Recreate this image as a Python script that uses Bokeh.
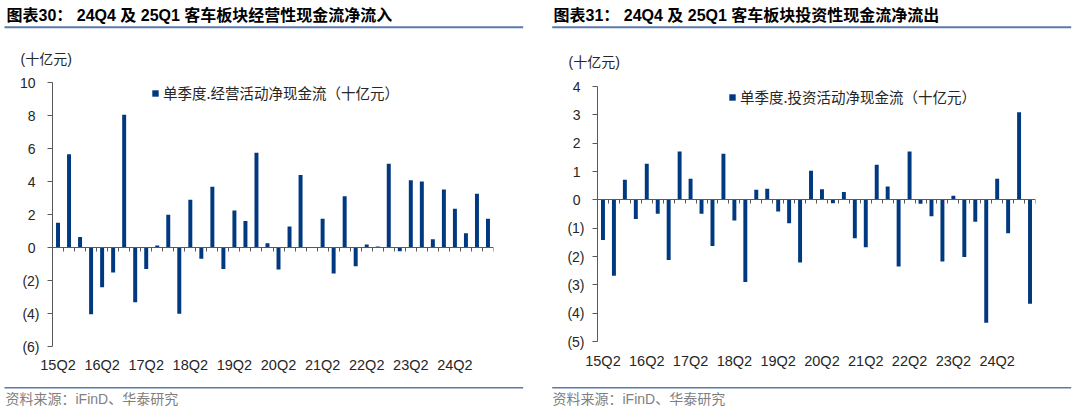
from bokeh.plotting import figure
from bokeh.models import (Label, BoxAnnotation, LinearAxis, FixedTicker, Range1d,
                          CustomJSTickFormatter)
from bokeh.layouts import row, column
from bokeh.embed import file_html
from bokeh.resources import INLINE

# ---------------- data ----------------
quarters = ["15Q2", "15Q3", "15Q4", "16Q1", "16Q2", "16Q3", "16Q4", "17Q1", "17Q2", "17Q3",
            "17Q4", "18Q1", "18Q2", "18Q3", "18Q4", "19Q1", "19Q2", "19Q3", "19Q4", "20Q1",
            "20Q2", "20Q3", "20Q4", "21Q1", "21Q2", "21Q3", "21Q4", "22Q1", "22Q2", "22Q3",
            "22Q4", "23Q1", "23Q2", "23Q3", "23Q4", "24Q1", "24Q2", "24Q3", "24Q4", "25Q1"]

operating_cf = [1.5, 5.65, 0.64, -4.05, -2.41, -1.51, 8.05, -3.32, -1.31, 0.12,
                1.99, -4.02, 2.9, -0.68, 3.68, -1.31, 2.25, 1.61, 5.75, 0.26,
                -1.33, 1.27, 4.4, -0.03, 1.75, -1.57, 3.1, -1.13, 0.18, 0.06,
                5.07, -0.22, 4.08, 4.0, 0.5, 3.52, 2.35, 0.87, 3.26, 1.75]

investing_cf = [-1.42, -2.68, 0.71, -0.68, 1.27, -0.49, -2.12, 1.71, 0.74, -0.49,
                -1.63, 1.63, -0.73, -2.9, 0.36, 0.39, -0.41, -0.83, -2.21, 1.03,
                0.37, -0.12, 0.28, -1.36, -1.67, 1.24, 0.47, -2.35, 1.71, -0.14,
                -0.58, -2.18, 0.14, -2.02, -0.77, -4.34, 0.74, -1.18, 3.09, -3.67]

x_tick_labels = ["15Q2", "16Q2", "17Q2", "18Q2", "19Q2", "20Q2", "21Q2", "22Q2", "23Q2", "24Q2"]

left_yticks = [-6, -4, -2, 0, 2, 4, 6, 8, 10]
left_ylabels = ["(6)", "(4)", "(2)", "0\u2008", "2\u2008", "4\u2008", "6\u2008", "8\u2008", "10\u2008"]
right_yticks = [-5, -4, -3, -2, -1, 0, 1, 2, 3, 4]
right_ylabels = ["(5)", "(4)", "(3)", "(2)", "(1)", "0\u2008", "1\u2008", "2\u2008", "3\u2008", "4\u2008"]

left_title = "图表30： 24Q4 及 25Q1 客车板块经营性现金流净流入"
right_title = "图表31： 24Q4 及 25Q1 客车板块投资性现金流净流出"
left_legend = "单季度.经营活动净现金流（十亿元）"
right_legend = "单季度.投资活动净现金流（十亿元）"
unit_text = "(十亿元)"
source_text = "资料来源：iFinD、华泰研究"

# ---------------- style ----------------
BAR = "#00397F"
RULE = "#5B7AAB"
AXIS = "#595959"
TXT = "#262626"
CJK = "Noto Sans CJK SC"
MIX = "Liberation Sans, Noto Sans CJK SC"
LAT = "Liberation Sans"
COL_W = 540
FOOT_Y = 384          # top of the footer strip
TOTAL_H = 420


def blank(height):
    p = figure(width=COL_W, height=height, x_range=Range1d(0, COL_W),
               y_range=Range1d(height, 0), output_backend="svg", toolbar_location=None,
               x_axis_location=None, y_axis_location=None, title=None, min_border=0,
               frame_align=False)
    p.grid.visible = False
    p.outline_line_color = None
    p.background_fill_color = "white"
    p.border_fill_color = "white"
    return p


def lab(p, x, y, text, size, color=TXT, style="normal", font=MIX):
    p.add_layout(Label(x=x, y=y, text=text, text_font=font, text_font_size=size,
                       text_font_style=style, text_color=color,
                       text_baseline="middle", text_align="left"))


def rule(p, x0, x1, y, th):
    p.add_layout(BoxAnnotation(left=x0, right=x1, top=y - th / 2, bottom=y + th / 2,
                               fill_color=RULE, fill_alpha=1, line_color=None))


def top_panel(title, geo):
    p = blank(geo["th"])
    lab(p, geo["tx"], 15, title, "16px", color="#000000", style="bold")
    rule(p, geo["r0"], geo["r1"], 26.7, 2)
    lab(p, geo["ux"], geo["uy"], unit_text, "14px")
    return p


def foot_panel(geo):
    p = blank(TOTAL_H - FOOT_Y)
    rule(p, geo["r0"], geo["r1"], 3.3, 1.6)
    lab(p, geo["sx"], 14.3, source_text, "14px", color="#7F7F7F")
    return p


def chart_panel(values, yticks, ylabels, legend_label, geo):
    n = len(quarters)
    p = figure(width=COL_W, height=FOOT_Y - geo["th"], x_range=Range1d(-0.5, n - 0.5),
               y_range=Range1d(yticks[0], yticks[-1]),
               output_backend="svg", toolbar_location=None, title=None, frame_align=False,
               min_border_left=geo["bl"], min_border_right=geo["br"],
               min_border_top=geo["bt"], min_border_bottom=geo["bb"])
    p.grid.visible = False
    p.outline_line_color = None
    p.background_fill_color = "white"
    p.border_fill_color = "white"

    idx = list(range(n))
    p.vbar(x=idx, top=values, bottom=0, width=0.36, fill_color=BAR, line_color=None,
           legend_label=legend_label)

    # category labels at the bottom
    xa = p.xaxis[0]
    tick_pos = [quarters.index(q) for q in x_tick_labels]
    xa.ticker = FixedTicker(ticks=tick_pos)
    xa.major_label_overrides = {i: quarters[i] for i in tick_pos}
    xa.axis_line_color = None
    xa.major_tick_line_color = None
    xa.major_tick_out = 0
    xa.major_tick_in = 0
    xa.minor_tick_line_color = None
    xa.minor_tick_out = 0
    xa.major_label_standoff = geo["xs"]
    xa.major_label_text_font = LAT
    xa.major_label_text_font_size = "14.5px"
    xa.major_label_text_color = TXT

    # axis line at zero with category boundary ticks
    za = LinearAxis(fixed_location=0,
                    ticker=FixedTicker(ticks=[i - 0.5 for i in range(n + 1)]),
                    formatter=CustomJSTickFormatter(code="return ''"))
    za.axis_line_color = AXIS
    za.axis_line_width = 1
    za.major_tick_line_color = AXIS
    za.major_tick_in = 0
    za.major_tick_out = 4
    za.minor_tick_line_color = None
    za.minor_tick_out = 0
    za.major_label_standoff = 0
    za.major_label_text_font_size = "1px"
    p.add_layout(za, "below")

    ya = p.yaxis[0]
    ya.ticker = FixedTicker(ticks=yticks)
    ya.major_label_overrides = {v: s for v, s in zip(yticks, ylabels)}
    ya.axis_line_color = AXIS
    ya.major_tick_line_color = AXIS
    ya.major_tick_in = 0
    ya.major_tick_out = 5
    ya.minor_tick_line_color = None
    ya.minor_tick_out = 0
    ya.major_label_standoff = 8
    ya.major_label_text_font = LAT
    ya.major_label_text_font_size = "14px"
    ya.major_label_text_color = TXT

    lg = p.legend[0]
    lg.location = geo["lg"]
    lg.border_line_color = None
    lg.background_fill_alpha = 0
    lg.padding = 0
    lg.margin = 0
    lg.glyph_width = 8
    lg.glyph_height = 8
    lg.label_height = 14
    lg.label_standoff = 4
    lg.label_text_font = CJK
    lg.label_text_font_size = "14.5px"
    lg.label_text_color = TXT
    return p


left_geo = dict(th=70, tx=6, r0=4, r1=522.7, ux=20, uy=58, sx=5,
                bl=52, br=47, bt=12, bb=38, xs=10, lg=(99, 243))
right_geo = dict(th=74, tx=13, r0=11.7, r1=530.7, ux=28, uy=61.5, sx=12,
                 bl=57, br=45, bt=12, bb=43, xs=11, lg=(131, 234))

left_col = column(top_panel(left_title, left_geo),
                  chart_panel(operating_cf, left_yticks, left_ylabels, left_legend, left_geo),
                  foot_panel(left_geo))
right_col = column(top_panel(right_title, right_geo),
                   chart_panel(investing_cf, right_yticks, right_ylabels, right_legend, right_geo),
                   foot_panel(right_geo))

layout = row(left_col, right_col)
open("out.html", "w").write(file_html(layout, INLINE))
